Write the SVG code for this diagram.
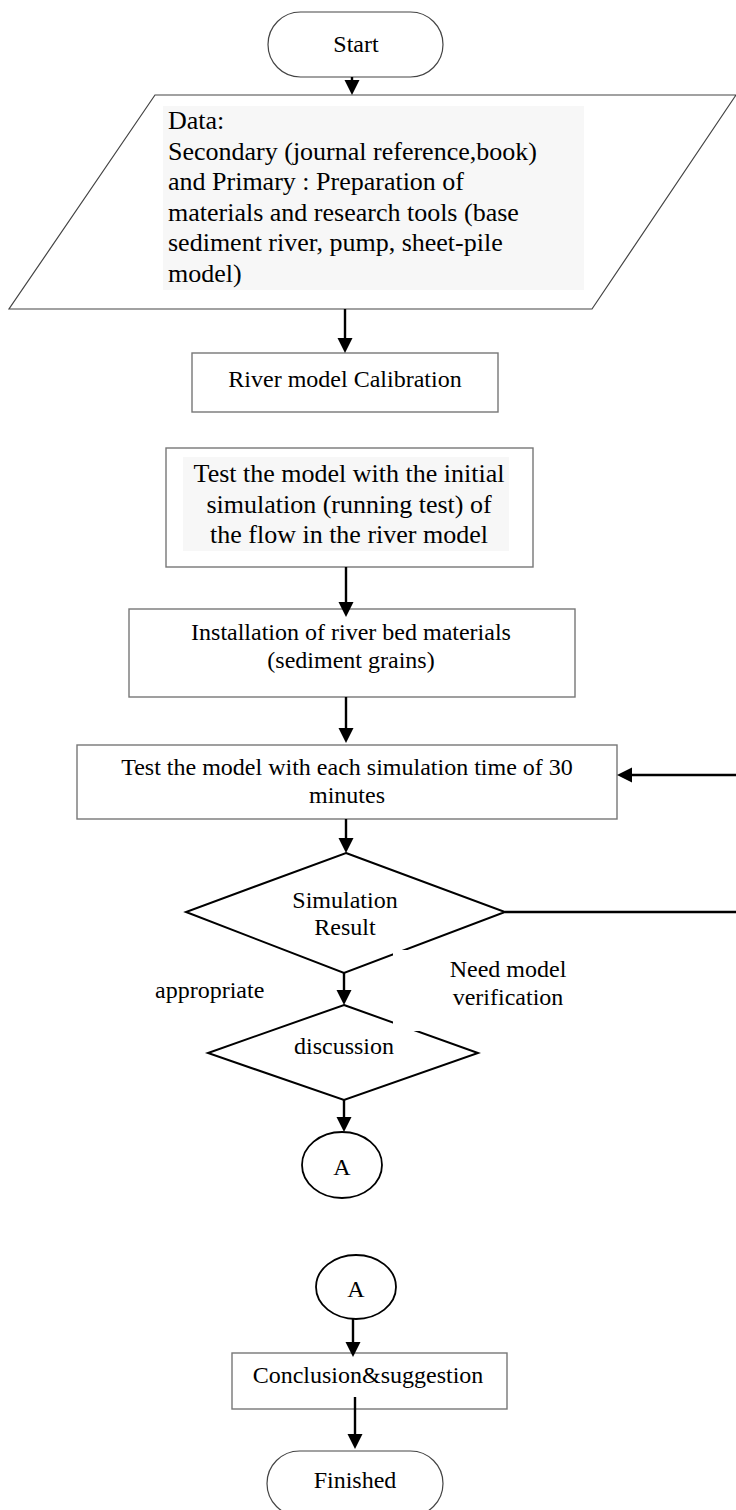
<svg xmlns="http://www.w3.org/2000/svg" width="736" height="1510" viewBox="0 0 736 1510">
<style>
text{font-family:"Liberation Serif","Times New Roman",serif;font-size:24px;fill:#000}
.c{text-anchor:middle}
.big{font-size:26px}
.box{fill:#fff;stroke:#777;stroke-width:1.4}
.term{fill:#fff;stroke:#444;stroke-width:1.2}
.dia{fill:#fff;stroke:#000;stroke-width:2}
.circ{fill:#fff;stroke:#000;stroke-width:1.8}
.hl{fill:#f7f7f7}
.conn path{fill:none;stroke:#000;stroke-width:2.4}
</style>
<defs>
<marker id="ah" markerUnits="userSpaceOnUse" markerWidth="16" markerHeight="16" refX="7" refY="7.5" orient="auto">
<path d="M0,0 L15,7.5 L0,15 z" fill="#000"/>
</marker>
</defs>
<rect width="736" height="1510" fill="#fff"/>

<g id="start">
<rect class="term" x="268" y="12" width="175" height="65" rx="32.5"/>
<text class="c" x="356" y="52">Start</text>
</g>

<g id="data">
<polygon points="155,95 736,95 592,309 9,309" fill="#fff" stroke="#444" stroke-width="1.2"/>
<rect class="hl" x="163" y="106" width="421" height="184"/>
<text class="big" x="168" y="129">Data:</text>
<text class="big" x="168" y="159.5">Secondary (journal reference,book)</text>
<text class="big" x="168" y="190">and Primary : Preparation of</text>
<text class="big" x="168" y="220.5">materials and research tools (base</text>
<text class="big" x="168" y="251">sediment river, pump, sheet-pile</text>
<text class="big" x="168" y="281.5">model)</text>
</g>

<g id="calibration">
<rect class="box" x="192" y="353" width="306" height="59"/>
<text class="c" x="345" y="387">River model Calibration</text>
</g>

<g id="test-initial">
<rect class="box" x="166" y="448" width="367" height="119"/>
<rect class="hl" x="183" y="457" width="326" height="94"/>
<text class="c big" x="349" y="482">Test the model with the initial</text>
<text class="c big" x="349" y="513">simulation (running test) of</text>
<text class="c big" x="349" y="543">the flow in the river model</text>
</g>

<g id="installation">
<rect class="box" x="129" y="609" width="446" height="88"/>
<text class="c" x="351" y="640">Installation of river bed materials</text>
<text class="c" x="351" y="668">(sediment grains)</text>
</g>

<g id="test-30">
<rect class="box" x="77" y="745" width="540" height="74"/>
<text class="c" x="347" y="775">Test the model with each simulation time of 30</text>
<text class="c" x="347" y="803">minutes</text>
</g>

<g id="simulation-result">
<polygon class="dia" points="346,853 505,912 344,973 186,912"/>
<text class="c" x="345" y="908">Simulation</text>
<text class="c" x="345" y="935">Result</text>
</g>

<g id="discussion">
<polygon class="dia" points="344,1005 478,1053 344,1100 208,1053"/>
<text class="c" x="344" y="1054">discussion</text>
</g>

<g id="connector-a1">
<ellipse class="circ" cx="342" cy="1165" rx="40" ry="33"/>
<text class="c" x="342" y="1175">A</text>
</g>

<g id="connector-a2">
<ellipse class="circ" cx="356" cy="1287" rx="40" ry="32"/>
<text class="c" x="356" y="1297">A</text>
</g>

<g id="conclusion">
<rect class="box" x="232" y="1353" width="275" height="56"/>
<text class="c" x="368" y="1383">Conclusion&amp;suggestion</text>
</g>

<g id="finished">
<rect class="term" x="267" y="1451" width="176" height="65" rx="32.5"/>
<text class="c" x="355" y="1488">Finished</text>
</g>

<g id="connectors" class="conn">
<path d="M352,77 V87" marker-end="url(#ah)"/>
<path d="M345,309 V345" marker-end="url(#ah)"/>
<path d="M346,567 V609" marker-end="url(#ah)"/>
<path d="M346,697 V735" marker-end="url(#ah)"/>
<path d="M346,819 V845" marker-end="url(#ah)"/>
<path d="M736,775 H625" marker-end="url(#ah)"/>
<path d="M505,912 H736"/>
<path d="M344,973 V997" marker-end="url(#ah)"/>
<path d="M344,1100 V1124" marker-end="url(#ah)"/>
<path d="M353,1319 V1349" marker-end="url(#ah)"/>
<path d="M355,1397 V1441" marker-end="url(#ah)"/>
</g>

<g id="labels">
<text x="155" y="998">appropriate</text>
<rect x="393" y="950" width="180" height="81" fill="#fff"/>
<text class="c" x="508" y="977">Need model</text>
<text class="c" x="508" y="1005">verification</text>
</g>
</svg>
